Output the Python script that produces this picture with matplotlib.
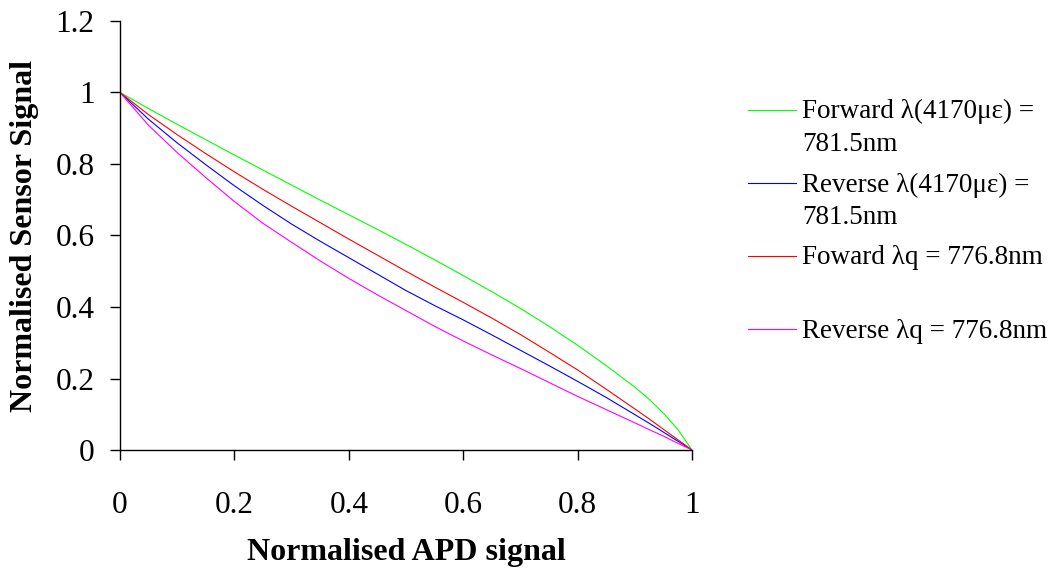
import matplotlib
matplotlib.use("Agg")
import matplotlib.pyplot as plt
from matplotlib.lines import Line2D
from matplotlib.ticker import FuncFormatter, MultipleLocator

# Normalised APD signal (x) and normalised sensor signal for each sweep
apd = [0.00, 0.05, 0.10, 0.15, 0.20, 0.25, 0.30, 0.35, 0.40, 0.45, 0.50,
       0.55, 0.60, 0.65, 0.70, 0.75, 0.80, 0.85, 0.90, 0.925, 0.95, 0.975, 1.00]

forward_strain = [1.000, 0.955, 0.911, 0.868, 0.825, 0.783, 0.741, 0.699, 0.658, 0.617, 0.575,
                  0.532, 0.488, 0.443, 0.396, 0.346, 0.293, 0.236, 0.176, 0.142, 0.103, 0.058, 0.000]
reverse_strain = [1.000, 0.925, 0.859, 0.798, 0.739, 0.684, 0.632, 0.584, 0.538, 0.492, 0.446,
                  0.404, 0.364, 0.322, 0.279, 0.236, 0.192, 0.147, 0.099, 0.075, 0.050, 0.025, 0.000]
forward_q = [1.000, 0.938, 0.882, 0.829, 0.778, 0.729, 0.682, 0.636, 0.590, 0.545, 0.500,
             0.456, 0.413, 0.369, 0.323, 0.274, 0.224, 0.170, 0.115, 0.087, 0.058, 0.029, 0.000]
reverse_q = [1.000, 0.908, 0.832, 0.762, 0.695, 0.634, 0.581, 0.529, 0.480, 0.434, 0.390,
             0.346, 0.305, 0.266, 0.228, 0.189, 0.150, 0.113, 0.076, 0.057, 0.039, 0.019, 0.000]

labels = ["Forward λ(4170με) =\n781.5nm",
          "Reverse λ(4170με) =\n781.5nm",
          "Foward λq = 776.8nm",
          "Reverse λq = 776.8nm"]
series = [forward_strain, reverse_strain, forward_q, reverse_q]
colors = ["#00FF00", "#0000FF", "#FF0000", "#FF00FF"]

x_label = "Normalised APD signal"
y_label = "Normalised Sensor Signal"

plt.rcParams["font.family"] = ["Liberation Serif", "DejaVu Serif"]

W, H = 1052, 572
fig = plt.figure(figsize=(W / 100, H / 100), dpi=100)
ax = fig.add_axes([120 / W, 1 - 450 / H, (692 - 120) / W, (450 - 21) / H])

for ys, c in zip(series, colors):
    ax.plot(apd, ys, color=c, lw=0.8, solid_joinstyle="round")

ax.set_xlim(0, 1)
ax.set_ylim(0, 1.2)
ax.xaxis.set_major_locator(MultipleLocator(0.2))
ax.yaxis.set_major_locator(MultipleLocator(0.2))
fmt = FuncFormatter(lambda v, _: f"{round(v, 6):g}")
ax.xaxis.set_major_formatter(fmt)
ax.yaxis.set_major_formatter(fmt)

for s in ("top", "right"):
    ax.spines[s].set_visible(False)
for s in ("left", "bottom"):
    ax.spines[s].set_linewidth(1.0)
    ax.spines[s].set_color("black")

ax.tick_params(axis="both", direction="out", length=7.2, width=1.0,
               labelsize=22.5, colors="black")
ax.tick_params(axis="x", pad=22)
ax.tick_params(axis="y", pad=11)

ax.set_xlabel(x_label, fontsize=23, fontweight="bold", labelpad=13)
ax.set_ylabel(y_label, fontsize=23, fontweight="bold", labelpad=12)

# Legend drawn to the right of the plot, handle level with the first text line
for i, (lab, c) in enumerate(zip(labels, colors)):
    yp = 110 + 73 * i
    fig.add_artist(Line2D([747.5 / W, 795.5 / W], [1 - yp / H, 1 - yp / H],
                          color=c, lw=0.8, transform=fig.transFigure))
    for j, line in enumerate(lab.split("\n")):
        fig.text(802.5 / W, 1 - (yp + 8.5 + 32.5 * j) / H, line, fontsize=19.5,
                 va="baseline", ha="left", color="black")

fig.savefig("out.png", dpi=100, facecolor="white")
